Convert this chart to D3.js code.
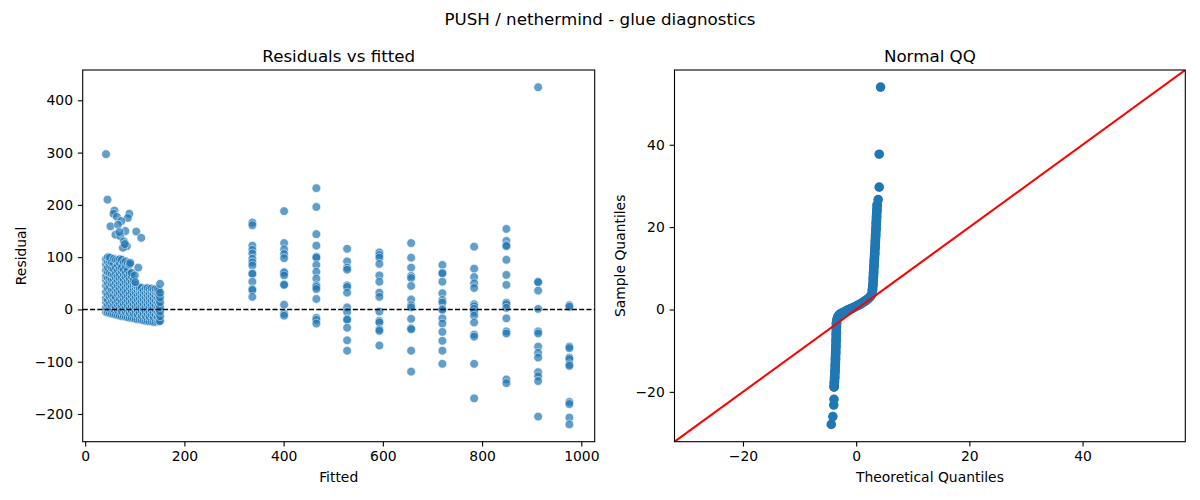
<!DOCTYPE html>
<html>
<head>
<meta charset="utf-8">
<script src="https://cdn.jsdelivr.net/npm/d3@7"></script>
<style>
  body { margin: 0; background: #fff; }
  svg { display: block; font-family: 'DejaVu Sans', sans-serif; }
</style>
</head>
<body>
<svg id="chart" width="1200" height="500"></svg>
<script>
'use strict';

// ---- Residuals vs fitted: dense low-fitted cluster (one residual list per fitted level)
const lowFitted = [42, 46, 50, 54, 58, 62, 66, 70, 74, 78, 82, 86, 90, 94, 98,
    102, 106, 110, 114, 118, 122, 126, 130, 134, 138, 142, 146, 149, 151];
const lowResiduals = [
    [-5, 4, 14, 22, 33, 45, 56, 64, 75, 86, 96],
    [-6, 8, 18, 28, 40, 50, 60, 71, 80, 91, 100],
    [-7, 2, 11, 24, 31, 42, 53, 61, 70, 84, 92, 99],
    [-8, 6, 16, 26, 37, 49, 57, 68, 79, 90],
    [-9, 0, 9, 18, 27, 38, 47, 58, 66, 77, 88, 97],
    [-10, 4, 13, 23, 33, 41, 51, 60, 69, 80, 95],
    [-11, -2, 8, 16, 29, 36, 45, 55, 63, 74, 85, 94],
    [-12, 1, 11, 20, 31, 40, 49, 59, 67, 78, 89, 96],
    [-13, -4, 6, 15, 26, 34, 44, 52, 61, 72, 80, 95],
    [-13, 0, 10, 19, 28, 38, 48, 57, 66, 76, 90],
    [-14, -5, 3, 13, 22, 33, 42, 51, 62, 70, 82, 92],
    [-15, -2, 7, 17, 26, 36, 46, 54, 64, 75, 88],
    [-16, -7, 2, 12, 21, 30, 41, 49, 58, 68, 86],
    [-16, -3, 6, 15, 25, 34, 44, 53, 63, 70],
    [-17, -8, 1, 10, 19, 28, 38, 46, 56],
    [-18, -5, 5, 14, 23, 32, 41, 47],
    [-19, -10, -1, 8, 18, 27, 36, 43],
    [-19, -6, 3, 12, 21, 30, 38, 42],
    [-20, -12, -3, 6, 15, 24, 33, 41],
    [-21, -8, 1, 10, 19, 28, 36],
    [-22, -13, -4, 5, 14, 23, 32, 40],
    [-22, -9, 0, 9, 18, 27, 35, 41],
    [-23, -14, -5, 4, 13, 22, 31, 39],
    [-23, -10, -1, 8, 17, 26, 34, 40],
    [-24, -15, -6, 3, 12, 21, 30, 38],
    [-24, -10, -1, 8, 17, 26, 34, 39],
    [-23, -14, -5, 4, 13, 22, 31, 38],
    [-23, -9, 0, 9, 18, 27, 36],
    [-22, -13, -4, 5, 14, 23, 32, 49]
];
// scattered points above the cluster [fitted, residual]
const lowOutliers = [
    [42, 297], [45, 210], [59, 189], [57, 183], [64, 177], [89, 183], [86, 175],
    [73, 169], [51, 159], [66, 162], [81, 150], [103, 149], [113, 137], [61, 143],
    [71, 140], [78, 130], [84, 121], [76, 118], [69, 148], [80, 125], [91, 89],
    [107, 80], [100, 65], [101, 52]
];

// ---- Residuals vs fitted: discrete high-fitted levels
const highFitted = [337, 401, 466, 528, 593, 657, 720, 784, 849, 913, 976];
const highResiduals = [
    [166, 161, 122, 114, 107, 97, 90, 84, 69, 68, 53, 39, 37, 24],
    [188, 127, 115, 106, 98, 72, 70, 65, 48, 47, 9, -8, -12],
    [232, 196, 144, 122, 101, 99, 85, 72, 59, 46, 43, 39, 20, -16, -20, -27],
    [116, 92, 80, 76, 46, 43, 32, 4, -5, -18, -20, -35, -59, -79],
    [109, 104, 99, 87, 65, 53, 32, 24, -4, -22, -25, -38, -41, -69],
    [127, 99, 80, 64, 60, 45, 19, 8, 4, -18, -36, -38, -79, -119],
    [85, 70, 69, 53, 31, 18, 13, 1, -1, -17, -27, -43, -60, -79, -104],
    [120, 78, 62, 50, 41, 10, 6, 1, -5, -12, -25, -48, -52, -104, -170],
    [154, 131, 123, 121, 95, 66, 47, 13, 10, 3, -17, -42, -46, -134, -141],
    [425, 53, 52, 36, 1, -42, -46, -71, -83, -92, -120, -128, -137, -205],
    [8, 5, -71, -74, -92, -95, -105, -108, -177, -181, -207, -220]
];

const fittedTicks = [0, 200, 400, 600, 800, 1000];
const residualTicks = [-200, -100, 0, 100, 200, 300, 400];

// ---- Normal QQ: continuous band of quantiles, then isolated tail points
const qqBandTheo = [
    -3.9, -3.86, -3.8, -3.74, -3.7, -3.66, -3.62, -3.58, -3.55, -3.52, -3.5,
    -3.48, -3.4, -3.2, -2.9, -2.5, -2.0, -1.5, -1.0, -0.5, 0.0, 0.5, 1.0, 1.5, 2.0, 2.4,
    2.72, 2.88, 2.96, 3.02, 3.08, 3.14, 3.2, 3.27, 3.33, 3.38, 3.44, 3.5, 3.55, 3.6, 3.66, 3.71
];
const qqBandSample = [
    -18.8, -17.8, -16.5, -15, -13.5, -12, -10.5, -9, -7.5, -6, -4.5,
    -3.4, -2.5, -1.7, -1.2, -0.85, -0.5, -0.15, 0.15, 0.45, 0.8, 1.15, 1.55, 2.0, 2.5, 3.0,
    3.6, 4.8, 6, 7.5, 9, 10.5, 12, 13.5, 15, 16.5, 18, 19.5, 21, 22.5, 24, 25.4
];
const qqTailTheo = [-4.4, -4.12, -3.96, -3.92, 3.89, 4.07, 4.07, 4.31];
const qqTailSample = [-27.9, -26.0, -23.2, -21.8, 26.7, 29.7, 37.7, 54.0];
const qqDomain = [-32.1, 58.15];
const qqTicks = [-20, 0, 20, 40];

const BLUE = '#1f77b4';
const svg = d3.select('#chart');

// suptitle
svg.append('text')
    .attr('x', 600).attr('y', 25)
    .attr('text-anchor', 'middle')
    .attr('font-size', 16.7)
    .text('PUSH / nethermind - glue diagnostics');

const plotTop = 70, plotBottom = 441.7;
const tickFmt = d3.format('d');

function frame(g, x0, x1, xScale, yScale, xTicks, yTicks, title, xLabel, yLabel, yLabelX) {
    const xAxis = g.append('g')
        .attr('transform', `translate(0,${plotBottom})`)
        .call(d3.axisBottom(xScale).tickValues(xTicks).tickFormat(tickFmt)
            .tickSize(4.86).tickPadding(4.86));
    const yAxis = g.append('g')
        .attr('transform', `translate(${x0},0)`)
        .call(d3.axisLeft(yScale).tickValues(yTicks).tickFormat(tickFmt)
            .tickSize(4.86).tickPadding(4.86));
    [xAxis, yAxis].forEach(a => {
        a.select('.domain').remove();
        a.selectAll('line').attr('stroke', '#000').attr('stroke-width', 1.1);
        a.selectAll('text').attr('fill', '#000').attr('font-size', 13.9)
            .attr('font-family', "'DejaVu Sans', sans-serif");
    });

    g.append('rect')
        .attr('x', x0).attr('y', plotTop)
        .attr('width', x1 - x0).attr('height', plotBottom - plotTop)
        .attr('fill', 'none').attr('stroke', '#000').attr('stroke-width', 1.1);

    g.append('text')
        .attr('x', (x0 + x1) / 2).attr('y', 62)
        .attr('text-anchor', 'middle').attr('font-size', 16.7)
        .text(title);
    g.append('text')
        .attr('x', (x0 + x1) / 2).attr('y', 482)
        .attr('text-anchor', 'middle').attr('font-size', 13.9)
        .text(xLabel);
    g.append('text')
        .attr('transform', `translate(${yLabelX},${(plotTop + plotBottom) / 2}) rotate(-90)`)
        .attr('text-anchor', 'middle').attr('font-size', 13.9)
        .text(yLabel);
}

// ---------------- Left panel
const L0 = 82.7, L1 = 594.7;
const xFit = d3.scaleLinear().domain([-5, 1027]).range([L0, L1]);
const yRes = d3.scaleLinear().domain([-253, 458]).range([plotBottom, plotTop]);

const scatter = [];
lowFitted.forEach((f, i) => lowResiduals[i].forEach(r => scatter.push([f, r])));
lowOutliers.forEach(p => scatter.push(p));
highFitted.forEach((f, i) => highResiduals[i].forEach(r => scatter.push([f, r])));

const left = svg.append('g');
left.append('g').selectAll('circle')
    .data(scatter)
    .join('circle')
    .attr('cx', d => xFit(d[0]))
    .attr('cy', d => yRes(d[1]))
    .attr('r', 4.4)
    .attr('fill', BLUE)
    .attr('stroke', '#fff')
    .attr('stroke-width', 0.7)
    .attr('opacity', 0.7);

// zero reference line
left.append('line')
    .attr('x1', L0).attr('x2', L1)
    .attr('y1', yRes(0)).attr('y2', yRes(0))
    .attr('stroke', '#000').attr('stroke-width', 1.4)
    .attr('stroke-dasharray', '5.1,2.2');

frame(left, L0, L1, xFit, yRes, fittedTicks, residualTicks,
    'Residuals vs fitted', 'Fitted', 'Residual', 26);

// ---------------- Right panel
const R0 = 674.5, R1 = 1185.3;
const xQ = d3.scaleLinear().domain(qqDomain).range([R0, R1]);
const yQ = d3.scaleLinear().domain(qqDomain).range([plotBottom, plotTop]);

svg.append('defs').append('clipPath').attr('id', 'qqClip')
    .append('rect').attr('x', R0).attr('y', plotTop)
    .attr('width', R1 - R0).attr('height', plotBottom - plotTop);

const right = svg.append('g');
const band = qqBandTheo.map((t, i) => [t, qqBandSample[i]]);
const tails = qqTailTheo.map((t, i) => [t, qqTailSample[i]]);

right.append('path')
    .datum(band)
    .attr('d', d3.line().x(d => xQ(d[0])).y(d => yQ(d[1])).curve(d3.curveCatmullRom))
    .attr('fill', 'none')
    .attr('stroke', BLUE)
    .attr('stroke-width', 9.6)
    .attr('stroke-linecap', 'round')
    .attr('stroke-linejoin', 'round');

right.append('g').selectAll('circle')
    .data(band.concat(tails))
    .join('circle')
    .attr('cx', d => xQ(d[0]))
    .attr('cy', d => yQ(d[1]))
    .attr('r', 4.8)
    .attr('fill', BLUE);

// 45 degree reference line
right.append('line')
    .attr('clip-path', 'url(#qqClip)')
    .attr('x1', xQ(qqDomain[0])).attr('y1', yQ(qqDomain[0]))
    .attr('x2', xQ(qqDomain[1])).attr('y2', yQ(qqDomain[1]))
    .attr('stroke', '#ff0000').attr('stroke-width', 2.1);

frame(right, R0, R1, xQ, yQ, qqTicks, qqTicks,
    'Normal QQ', 'Theoretical Quantiles', 'Sample Quantiles', 625);
</script>
</body>
</html>
